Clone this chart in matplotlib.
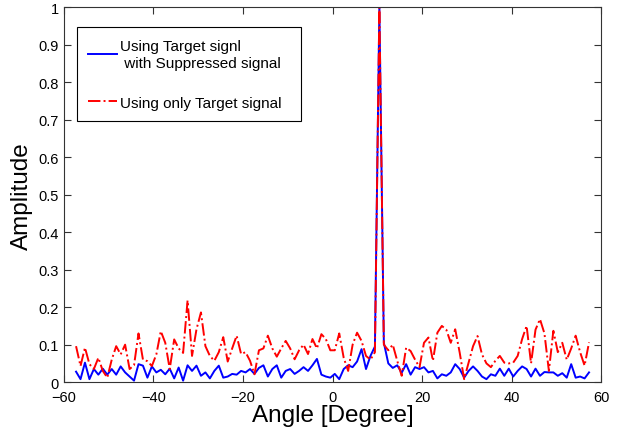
import numpy as np
import matplotlib
matplotlib.use("Agg")
import matplotlib.pyplot as plt
from matplotlib.ticker import FuncFormatter

plt.rcParams['font.family'] = ['Liberation Sans', 'DejaVu Sans']

# angle grid (degrees)
angles = np.linspace(-57.3, 57.3, 116)

# Using Target signl with Suppressed signal
amp_suppressed = [
    0.028, 0.008, 0.052, 0.008, 0.035, 0.020, 0.036, 0.020, 0.035, 0.020,
    0.042, 0.026, 0.015, 0.004, 0.048, 0.044, 0.012, 0.042, 0.026, 0.033,
    0.021, 0.036, 0.010, 0.039, 0.004, 0.045, 0.030, 0.044, 0.017, 0.026,
    0.010, 0.030, 0.044, 0.012, 0.015, 0.022, 0.020, 0.030, 0.026, 0.035,
    0.022, 0.038, 0.045, 0.015, 0.035, 0.045, 0.012, 0.030, 0.035, 0.022,
    0.030, 0.040, 0.030, 0.045, 0.062, 0.020, 0.015, 0.012, 0.022, 0.008,
    0.035, 0.045, 0.040, 0.055, 0.088, 0.035, 0.070, 0.095, 1.000, 0.105,
    0.050, 0.038, 0.045, 0.025, 0.048, 0.020, 0.040, 0.035, 0.040, 0.026,
    0.030, 0.010, 0.021, 0.017, 0.026, 0.048, 0.035, 0.012, 0.030, 0.042,
    0.030, 0.015, 0.008, 0.021, 0.017, 0.036, 0.017, 0.036, 0.015, 0.030,
    0.042, 0.035, 0.015, 0.036, 0.017, 0.027, 0.026, 0.026, 0.017, 0.024,
    0.012, 0.048, 0.012, 0.015, 0.010, 0.026,
]

# Using only Target signal
amp_target = [
    0.096, 0.043, 0.092, 0.048, 0.035, 0.065, 0.030, 0.012, 0.060, 0.096,
    0.074, 0.100, 0.035, 0.045, 0.130, 0.060, 0.056, 0.043, 0.074, 0.136,
    0.105, 0.035, 0.114, 0.090, 0.078, 0.218, 0.070, 0.141, 0.186, 0.096,
    0.070, 0.057, 0.080, 0.120, 0.055, 0.090, 0.124, 0.075, 0.080, 0.057,
    0.021, 0.085, 0.090, 0.124, 0.090, 0.068, 0.090, 0.110, 0.090, 0.061,
    0.085, 0.100, 0.075, 0.115, 0.090, 0.128, 0.115, 0.085, 0.085, 0.130,
    0.065, 0.030, 0.100, 0.132, 0.110, 0.070, 0.060, 0.080, 1.000, 0.100,
    0.085, 0.100, 0.057, 0.017, 0.092, 0.083, 0.060, 0.040, 0.105, 0.119,
    0.057, 0.132, 0.150, 0.140, 0.105, 0.141, 0.079, 0.008, 0.052, 0.096,
    0.123, 0.074, 0.050, 0.040, 0.057, 0.070, 0.052, 0.050, 0.052, 0.070,
    0.115, 0.150, 0.050, 0.140, 0.168, 0.130, 0.030, 0.137, 0.080, 0.105,
    0.060, 0.090, 0.124, 0.080, 0.044, 0.106,
]

fig = plt.figure(figsize=(6.21, 4.31), dpi=100)
ax = fig.add_axes([0.103, 0.111, 0.865, 0.870])

ax.plot(angles, amp_suppressed, color='#0000ff', lw=1.4,
        label='Using Target signl\n with Suppressed signal')
ax.plot(angles, amp_target, color='#ff0000', lw=1.4, ls='-.',
        label='Using only Target signal')

ax.set_xlim(-60, 60)
ax.set_ylim(0, 1)
ax.set_xticks(np.arange(-60, 61, 20))
ax.set_yticks(np.arange(0, 1.01, 0.1))
ax.yaxis.set_major_formatter(FuncFormatter(lambda v, p: f'{v:g}'))
ax.tick_params(direction='in', top=True, right=True, length=5,
               labelsize=10.5, color='#333333')
ax.tick_params(axis='x', pad=6)
for s in ax.spines.values():
    s.set_color('#333333')

ax.set_xlabel('Angle [Degree]', fontsize=17.5, labelpad=0)
ax.set_ylabel('Amplitude', fontsize=17.5, labelpad=4)

# legend box spans a fixed width, like the MATLAB one
leg = ax.legend(loc='upper left', fontsize=11, fancybox=False,
                edgecolor='black', framealpha=1, handlelength=1.9,
                handletextpad=0.2, borderpad=0.75, labelspacing=1.7,
                borderaxespad=0, mode='expand',
                bbox_to_anchor=(0.024, 0.0, 0.417, 0.947))
leg.get_frame().set_linewidth(0.8)
for t in leg.get_texts():
    t.set_linespacing(1.3)

fig.savefig('out.png', dpi=100)
